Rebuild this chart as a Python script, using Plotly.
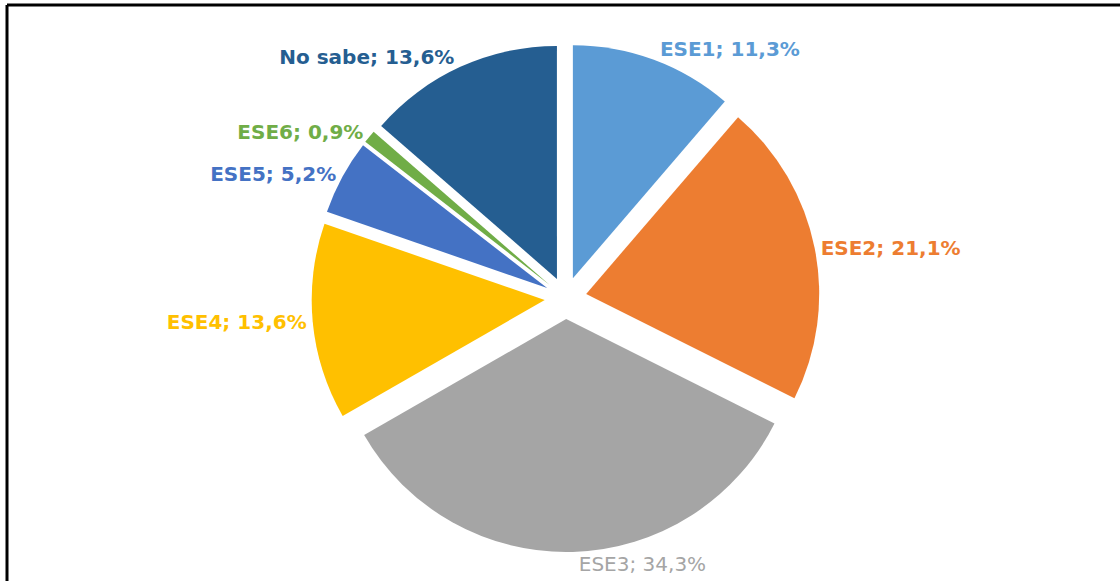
import plotly.graph_objects as go

labels = ["ESE1", "ESE2", "ESE3", "ESE4", "ESE5", "ESE6", "No sabe"]
values = [11.3, 21.1, 34.3, 13.6, 5.2, 0.9, 13.6]
colors = ["#5B9BD5", "#ED7D31", "#A5A5A5", "#FFC000", "#4472C4", "#70AD47", "#255E91"]
bold = [True, True, False, True, True, True, True]

W, H = 1120, 581

texts = []
for lab, v, b in zip(labels, values, bold):
    s = f"{lab}; {v:.1f}%".replace(".", ",")
    texts.append(f"<b>{s}</b>" if b else s)

fig = go.Figure(go.Pie(
    labels=labels,
    values=values,
    text=texts,
    texttemplate="%{text}",
    textposition="outside",
    automargin=False,
    sort=False,
    direction="clockwise",
    rotation=0,
    pull=0.09,
    marker=dict(colors=colors, line=dict(width=0)),
    outsidetextfont=dict(color=colors, size=20, family="DejaVu Sans"),
    showlegend=False,
    hoverinfo="skip",
    domain=dict(x=[0.01, 1.0], y=[29 / H, 537 / H]),
))

fig.update_layout(
    width=W, height=H,
    margin=dict(l=0, r=0, t=0, b=0, pad=0, autoexpand=False),
    paper_bgcolor="white",
    plot_bgcolor="white",
    shapes=[
        dict(type="line", xref="paper", yref="paper", x0=7 / W, x1=1.05, y0=1 - 5 / H, y1=1 - 5 / H,
             line=dict(color="black", width=3)),
        dict(type="line", xref="paper", yref="paper", x0=7 / W, x1=7 / W, y0=-0.05, y1=1 - 5 / H,
             line=dict(color="black", width=3)),
    ],
)

fig.write_html("out.html", config={"displayModeBar": False},
               post_script="document.body.style.margin='0';document.body.style.overflow='hidden';")
